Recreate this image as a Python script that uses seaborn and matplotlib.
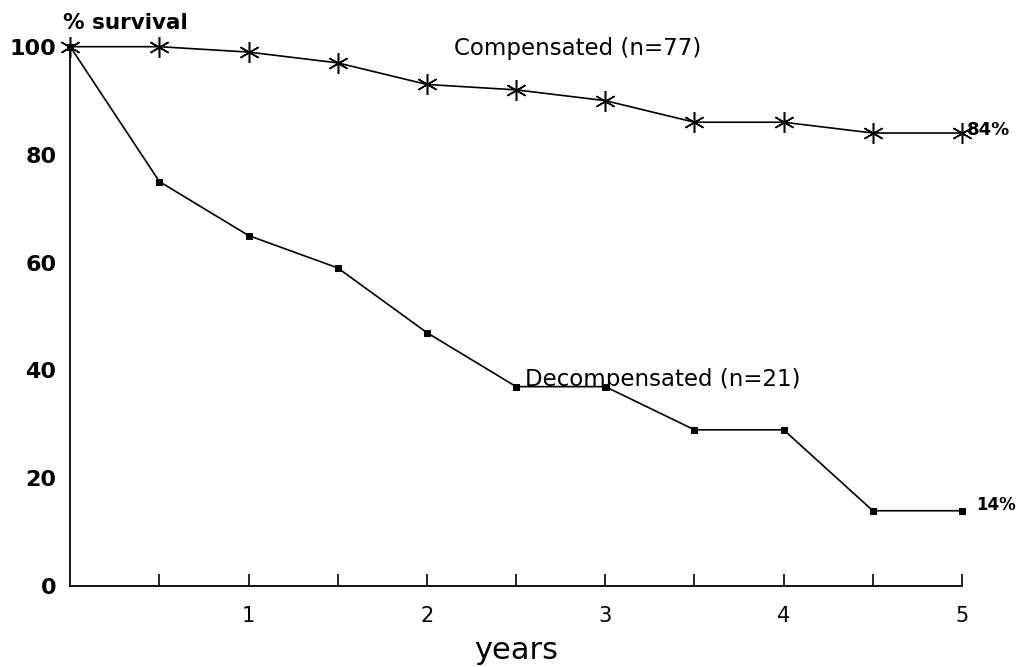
import matplotlib
matplotlib.use("Agg")
import matplotlib.pyplot as plt
import seaborn as sns
import pandas as pd

# Survival data (years since diagnosis, % surviving)
years = [0, 0.5, 1, 1.5, 2, 2.5, 3, 3.5, 4, 4.5, 5]
compensated = [100, 100, 99, 97, 93, 92, 90, 86, 86, 84, 84]
decompensated = [100, 75, 65, 59, 47, 37, 37, 29, 29, 14, 14]
x_tick_pos = [0.5, 1, 1.5, 2, 2.5, 3, 3.5, 4, 4.5, 5]
x_tick_labels = ["", "1", "", "2", "", "3", "", "4", "", "5"]
y_ticks = [0, 20, 40, 60, 80, 100]

sns.set_theme(style="white", rc={"text.color": "black",
                                 "axes.labelcolor": "black",
                                 "xtick.color": "black",
                                 "ytick.color": "black"})
plt.rcParams["font.family"] = ["DejaVu Sans"]

df_c = pd.DataFrame({"years": years, "survival": compensated})
df_d = pd.DataFrame({"years": years, "survival": decompensated})

fig = plt.figure(figsize=(10.18, 6.67), dpi=100)
ax = fig.add_axes([0.069, 0.121, 0.876, 0.809])

sns.lineplot(data=df_c, x="years", y="survival", ax=ax, color="black",
             linewidth=1.2, marker=(6, 2, 0), markersize=15,
             markeredgewidth=1.1, markeredgecolor="black", clip_on=False)
sns.lineplot(data=df_d, x="years", y="survival", ax=ax, color="black",
             linewidth=1.2, marker="s", markersize=4,
             markeredgecolor="black", clip_on=False)

ax.set_xlim(0, 5)
ax.set_ylim(0, 100)
ax.set_xticks(x_tick_pos)
ax.set_xticklabels(x_tick_labels, fontsize=15)
ax.set_yticks(y_ticks)
ax.set_yticklabels([str(v) for v in y_ticks], fontsize=16, fontweight="bold")
ax.tick_params(axis="x", direction="in", length=9, width=1.2, pad=14,
               bottom=True)
ax.tick_params(axis="y", length=0, pad=10)

for side in ["top", "right"]:
    ax.spines[side].set_visible(False)
for side in ["left", "bottom"]:
    ax.spines[side].set_color("black")
    ax.spines[side].set_linewidth(1.3)

ax.set_xlabel("years", fontsize=22, labelpad=12)
ax.xaxis.set_label_coords(0.50, -0.092)
ax.set_ylabel("")

ax.text(-0.04, 104.3, "% survival", fontsize=15.5, fontweight="bold",
        ha="left", va="center", clip_on=False)
ax.text(2.15, 99.6, "Compensated (n=77)", fontsize=16.5, ha="left",
        va="center", clip_on=False)
ax.text(2.55, 38.4, "Decompensated (n=21)", fontsize=16.5, ha="left",
        va="center")
ax.text(5.03, compensated[-1] + 0.5, "84%", fontsize=13, fontweight="bold",
        ha="left", va="center", clip_on=False)
ax.text(5.08, decompensated[-1] + 1.0, "14%", fontsize=12, fontweight="bold",
        ha="left", va="center", clip_on=False)

fig.savefig("out.png", dpi=100, facecolor="white")
